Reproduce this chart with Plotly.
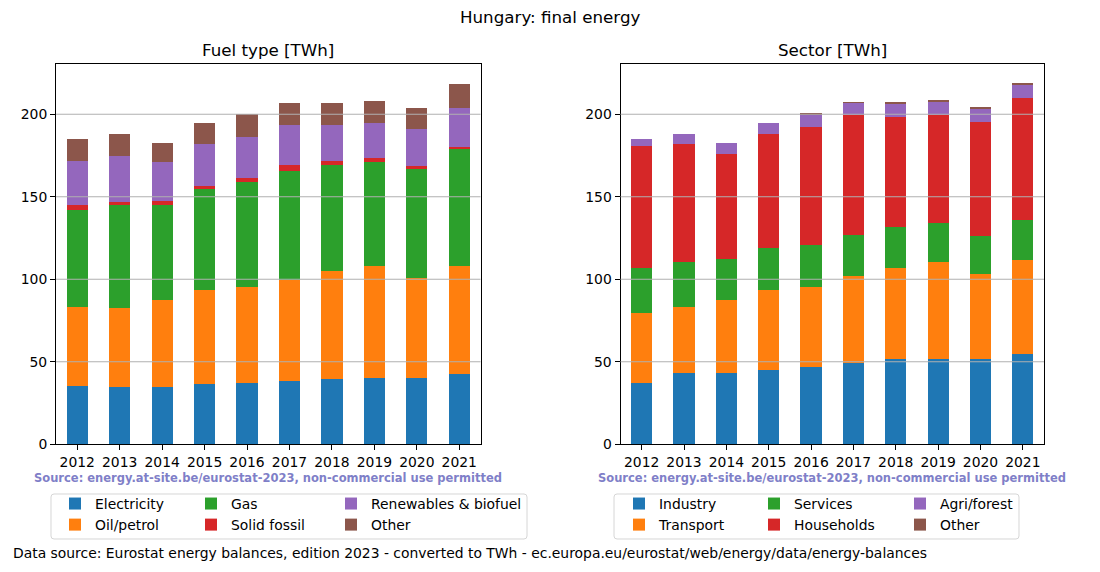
import plotly.graph_objects as go

W, H = 1100, 572
OFF = 8  # page body margin of the html page, compensated in pixel positions

years = ["2012", "2013", "2014", "2015", "2016", "2017", "2018", "2019", "2020", "2021"]

# Fuel type [TWh]
electricity = [35.1, 34.5, 34.5, 36.3, 36.9, 38.2, 39.4, 40.0, 40.0, 42.4]
oil_petrol = [48.2, 48.2, 53.1, 57.3, 58.5, 61.2, 65.6, 68.0, 60.8, 65.6]
gas = [58.5, 62.1, 57.6, 61.4, 63.8, 66.5, 64.5, 63.3, 66.3, 71.1]
solid_fossil = [3.0, 1.8, 2.0, 1.8, 2.4, 3.6, 2.4, 2.4, 1.8, 1.2]
renewables = [27.1, 28.3, 24.1, 25.3, 24.7, 24.1, 21.7, 21.1, 22.3, 23.5]
other_fuel = [13.2, 13.3, 11.4, 12.7, 13.9, 13.2, 13.2, 13.2, 12.6, 14.5]

# Sector [TWh]
industry = [36.9, 43.0, 43.0, 44.8, 46.6, 49.4, 51.4, 52.0, 51.4, 55.0]
transport = [42.8, 40.3, 44.6, 48.8, 48.8, 52.6, 55.4, 58.4, 51.8, 56.6]
services = [27.1, 27.1, 24.6, 25.3, 25.3, 24.7, 24.7, 23.5, 22.9, 24.1]
households = [74.1, 71.7, 63.9, 69.3, 71.7, 72.9, 66.9, 65.7, 69.3, 74.1]
agri_forest = [4.2, 6.1, 6.6, 6.6, 7.2, 7.2, 7.8, 7.8, 7.8, 7.9]
other_sector = [0.0, 0.0, 0.0, 0.0, 0.6, 0.2, 0.6, 0.6, 0.6, 0.6]

y_ticks = [0, 50, 100, 150, 200]

colors = ["#1f77b4", "#ff7f0e", "#2ca02c", "#d62728", "#9467bd", "#8c564b"]

fuel_series = [
    ("Electricity", electricity), ("Oil/petrol", oil_petrol), ("Gas", gas),
    ("Solid fossil", solid_fossil), ("Renewables & biofuel", renewables), ("Other", other_fuel),
]
sector_series = [
    ("Industry", industry), ("Transport", transport), ("Services", services),
    ("Households", households), ("Agri/forest", agri_forest), ("Other", other_sector),
]

FONT = "DejaVu Sans"
fig = go.Figure()

left_leg = ["legend", "legend", "legend2", "legend2", "legend3", "legend3"]
right_leg = ["legend4", "legend4", "legend5", "legend5", "legend6", "legend6"]

for i, (name, vals) in enumerate(fuel_series):
    fig.add_trace(go.Bar(x=years, y=vals, name=name, marker_color=colors[i],
                         marker_line_width=0, width=0.5, xaxis="x", yaxis="y",
                         legend=left_leg[i]))
for i, (name, vals) in enumerate(sector_series):
    fig.add_trace(go.Bar(x=years, y=vals, name=name, marker_color=colors[i],
                         marker_line_width=0, width=0.5, xaxis="x2", yaxis="y2",
                         legend=right_leg[i]))

def px_x(p):
    return (p - OFF) / W

def px_y(p):
    return 1 - (p - OFF) / H

axis_common = dict(
    showline=True, mirror=True, linecolor="black", linewidth=1,
    ticks="outside", ticklen=5, tickwidth=1, tickcolor="black",
    tickfont=dict(family=FONT, size=13.9, color="black"),
    zeroline=False,
)

yr = [0, 230.3]
fig.update_layout(
    width=W, height=H,
    margin=dict(l=0, r=0, t=0, b=0, autoexpand=False),
    paper_bgcolor="white", plot_bgcolor="white",
    barmode="stack", bargap=0.5,
    font=dict(family=FONT, size=13.9, color="black"),
    xaxis=dict(domain=[px_x(56), px_x(480.5)], type="category", range=[-0.5, 9.5],
               showgrid=False, anchor="y", **axis_common),
    yaxis=dict(domain=[px_y(444.3), px_y(64.3)], range=yr, tickvals=y_ticks,
               showgrid=False, anchor="x", **axis_common),
    xaxis2=dict(domain=[px_x(620.5), px_x(1044)], type="category", range=[-0.5, 9.5],
                showgrid=False, anchor="y2", **axis_common),
    yaxis2=dict(domain=[px_y(444.3), px_y(64.3)], range=yr, tickvals=y_ticks,
                showgrid=False, anchor="x2", **axis_common),
)

# grid lines above the bars (matplotlib draws them on top here)
shapes = []
for xr, yref in (("x domain", "y"), ("x2 domain", "y2")):
    for t in y_ticks[1:]:
        shapes.append(dict(type="line", xref=xr, yref=yref, x0=0, x1=1, y0=t, y1=t,
                           line=dict(color="#b0b0b0", width=1.1), layer="above"))

def rounded_box(x0, y0, x1, y1, r=3):
    def P(x, y):
        return f"{px_x(x):.5f},{px_y(y):.5f}"
    return ("M " + P(x0 + r, y0) + " L " + P(x1 - r, y0) + " Q " + P(x1, y0) + " " + P(x1, y0 + r)
            + " L " + P(x1, y1 - r) + " Q " + P(x1, y1) + " " + P(x1 - r, y1)
            + " L " + P(x0 + r, y1) + " Q " + P(x0, y1) + " " + P(x0, y1 - r)
            + " L " + P(x0, y0 + r) + " Q " + P(x0, y0) + " " + P(x0 + r, y0) + " Z")

for box in ((51, 494, 527, 539), (614, 494, 1019, 539)):
    shapes.append(dict(type="path", xref="paper", yref="paper", path=rounded_box(*box),
                       line=dict(color="#d6d6d6", width=1), fillcolor="rgba(255,255,255,0)",
                       layer="above"))
fig.update_layout(shapes=shapes)

leg_common = dict(orientation="v", xanchor="left", yanchor="top", bgcolor="rgba(0,0,0,0)",
                  borderwidth=0, font=dict(family=FONT, size=13.9, color="black"),
                  traceorder="normal", itemclick=False, itemdoubleclick=False,
                  tracegroupgap=0)
text_starts = [95, 231, 371, 659, 794, 940]
leg_names = ["legend", "legend2", "legend3", "legend4", "legend5", "legend6"]
for nm, ts in zip(leg_names, text_starts):
    fig.update_layout({nm: dict(x=px_x(ts - 40), y=px_y(488), **leg_common)})

src = "<b>Source: energy.at-site.be/eurostat-2023, non-commercial use permitted</b>"
annotations = [
    dict(text="Hungary: final energy", x=px_x(550), y=px_y(17.5), xref="paper", yref="paper",
         showarrow=False, xanchor="center", yanchor="middle",
         font=dict(family=FONT, size=16.7, color="black")),
    dict(text="Fuel type [TWh]", x=px_x(268), y=px_y(50), xref="paper", yref="paper",
         showarrow=False, xanchor="center", yanchor="middle",
         font=dict(family=FONT, size=16.7, color="black")),
    dict(text="Sector [TWh]", x=px_x(832), y=px_y(50), xref="paper", yref="paper",
         showarrow=False, xanchor="center", yanchor="middle",
         font=dict(family=FONT, size=16.7, color="black")),
    dict(text=src, x=px_x(268), y=px_y(478), xref="paper", yref="paper", showarrow=False,
         xanchor="center", yanchor="middle",
         font=dict(family=FONT, size=11.5, color="#7f7fc8")),
    dict(text=src, x=px_x(832), y=px_y(478), xref="paper", yref="paper", showarrow=False,
         xanchor="center", yanchor="middle",
         font=dict(family=FONT, size=11.5, color="#7f7fc8")),
    dict(text="Data source: Eurostat energy balances, edition 2023 - converted to TWh - ec.europa.eu/eurostat/web/energy/data/energy-balances",
         x=px_x(11), y=px_y(553), xref="paper", yref="paper", showarrow=False,
         xanchor="left", yanchor="middle",
         font=dict(family=FONT, size=13.9, color="black")),
]
fig.update_layout(annotations=annotations)

fig.write_html("out.html")
